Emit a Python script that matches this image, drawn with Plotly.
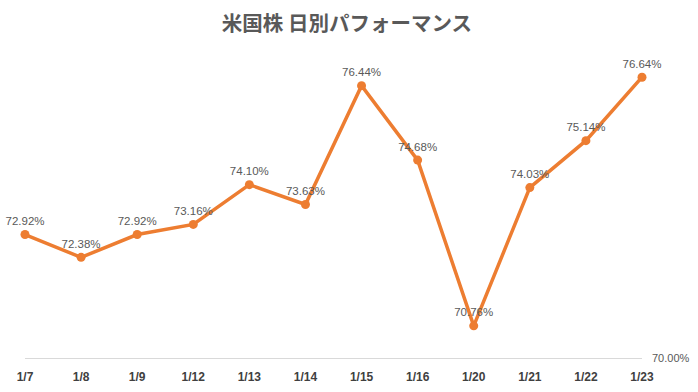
import plotly.graph_objects as go

dates = ["1/7", "1/8", "1/9", "1/12", "1/13", "1/14", "1/15", "1/16", "1/20", "1/21", "1/22", "1/23"]
values = [72.92, 72.38, 72.92, 73.16, 74.10, 73.63, 76.44, 74.68, 70.76, 74.03, 75.14, 76.64]
labels = [f"{v:.2f}%" for v in values]

fig = go.Figure()
fig.add_trace(go.Scatter(
    x=dates, y=values, mode="lines+markers+text",
    text=labels, textposition="top center",
    textfont=dict(size=11.5, color="#595959", family="Liberation Sans, Arial, sans-serif"),
    line=dict(color="#ED7D31", width=3.5),
    marker=dict(color="#ED7D31", size=9),
    cliponaxis=False, showlegend=False,
))

fig.update_layout(
    width=698, height=392,
    margin=dict(l=25, r=56, t=62, b=34, autoexpand=False),
    paper_bgcolor="white", plot_bgcolor="white",
    title=dict(text="<b>米国株 日別パフォーマンス</b>", x=0.497, xanchor="center", y=0.94, yanchor="middle",
               font=dict(size=20.5, color="#595959", family="Noto Sans CJK JP")),
    xaxis=dict(type="category", range=[0, 11], showgrid=False, showline=True,
               linecolor="#D9D9D9", linewidth=1, ticks="", automargin=False,
               tickfont=dict(size=12, color="#404040", family="Liberation Sans, Arial, sans-serif", weight="bold"),
               ticklabelstandoff=8),
    yaxis=dict(range=[70, 77], side="right", tickvals=[70], ticktext=["70.00%"],
               showgrid=False, zeroline=False, showline=False, ticks="", automargin=False,
               tickfont=dict(size=11, color="#595959", family="Liberation Sans, Arial, sans-serif"),
               ticklabelstandoff=9),
)

fig.write_html("out.html")
